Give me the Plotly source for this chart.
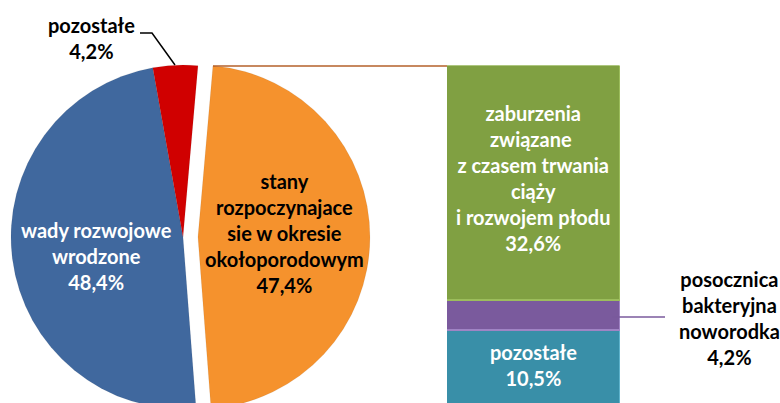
import plotly.graph_objects as go

# ---- data ----
pie_labels = ["stany rozpoczynajace sie w okresie okołoporodowym",
              "wady rozwojowe wrodzone", "pozostałe"]
pie_values = [47.4, 48.4, 4.2]
pie_label_lines = [["stany", "rozpoczynajace", "sie w okresie", "okołoporodowym"],
                   ["wady rozwojowe", "wrodzone"],
                   ["pozostałe"]]
pie_colors = ["#f5922d", "#40689e", "#d00000"]
pie_text_colors = ["#000000", "#ffffff", "#000000"]

bar_labels = ["pozostałe", "posocznica bakteryjna noworodka",
              "zaburzenia związane z czasem trwania ciąży i rozwojem płodu"]
bar_values = [10.5, 4.2, 32.6]  # bottom -> top
bar_label_lines = [["pozostałe"],
                   ["posocznica", "bakteryjna", "noworodka"],
                   ["zaburzenia", "związane ", "z czasem trwania", "ciąży", "i rozwojem płodu"]]
bar_colors = ["#398fa8", "#7a5a9d", "#80a042"]
bar_edge_colors = ["#5fb3cc", "#a084c4", "#9cbd5c"]
bar_text_colors = ["#ffffff", "#000000", "#ffffff"]

OX = 4            # page is shifted left by OX pixels
W, H = 780 + OX, 430


def fmt(v):
    return f"{v:.1f}%".replace(".", ",")


def px(x):
    return (x + OX) / W


def py(y):
    return 1 - y / H


# ---- layout geometry (screen pixels) ----
cx, cy, r, pull = 183, 237, 172, 0.087
half = r * (1 + pull)

fig = go.Figure()
fig.add_trace(go.Pie(
    labels=pie_labels, values=pie_values, sort=False, direction="clockwise",
    rotation=5.0, pull=[pull, 0, 0], textinfo="none", hoverinfo="label+percent",
    marker=dict(colors=pie_colors, line=dict(color="rgba(0,0,0,0.12)", width=0.5)),
    domain=dict(x=[max(0, px(cx - half)), min(1, px(cx + half))],
                y=[py(cy + half), py(cy - half)]),
    showlegend=False,
))

for lab, v, c, ec in zip(bar_labels, bar_values, bar_colors, bar_edge_colors):
    fig.add_trace(go.Bar(
        x=[0], y=[v], name=lab, width=1, xaxis="x", yaxis="y",
        marker=dict(color=c, line=dict(color=ec, width=1.5)),
        showlegend=False, hoverinfo="name+y",
    ))

bar_top, bar_bottom = 65.5, 406
fig.update_layout(
    width=W, height=H, margin=dict(l=0, r=0, t=0, b=0, pad=0),
    paper_bgcolor="white", plot_bgcolor="rgba(0,0,0,0)",
    barmode="stack", bargap=0,
    xaxis=dict(domain=[px(447), px(620)], range=[-0.5, 0.5], visible=False),
    yaxis=dict(domain=[py(bar_bottom), py(bar_top)], range=[0, sum(bar_values)], visible=False),
    font=dict(family="Lato, sans-serif", size=20),
)

annos = []


def add_label(lines, val, x, y, color):
    text = "<br>".join(lines + [fmt(val)])
    annos.append(dict(text=text, x=px(x), y=py(y), xref="paper", yref="paper",
                      showarrow=False, xanchor="center", yanchor="middle",
                      font=dict(family="Lato, sans-serif", size=20, color=color, weight="bold")))


# pie labels
add_label(pie_label_lines[0], pie_values[0], 284, 233, pie_text_colors[0])
add_label(pie_label_lines[1], pie_values[1], 97, 256, pie_text_colors[1])
add_label(pie_label_lines[2], pie_values[2], 91, 38, pie_text_colors[2])
# bar labels
add_label(bar_label_lines[0], bar_values[0], 533, 365, bar_text_colors[0])
add_label(bar_label_lines[1], bar_values[1], 729, 318, bar_text_colors[1])
add_label(bar_label_lines[2], bar_values[2], 533, 178, bar_text_colors[2])
fig.update_layout(annotations=annos)

shapes = [
    # series line from exploded slice to bar top
    dict(type="line", xref="paper", yref="paper", x0=px(213), y0=py(66), x1=px(447), y1=py(66),
         line=dict(color="#b5602a", width=1.5)),
    # leader for pie "pozostałe"
    dict(type="path", xref="paper", yref="paper",
         path=f"M {px(140)},{py(33)} L {px(152)},{py(33)} L {px(175)},{py(65)}",
         line=dict(color="black", width=1.5)),
    # leader for "posocznica"
    dict(type="line", xref="paper", yref="paper", x0=px(612), y0=py(317), x1=px(665), y1=py(317),
         line=dict(color="#7a5a9d", width=1.5)),
]
fig.update_layout(shapes=shapes)

fig.write_html(
    "out.html",
    config={"displayModeBar": False},
    post_script=f"document.body.style.margin='0';document.body.style.marginLeft='-{OX}px';"
                "document.body.style.overflow='hidden';",
)
